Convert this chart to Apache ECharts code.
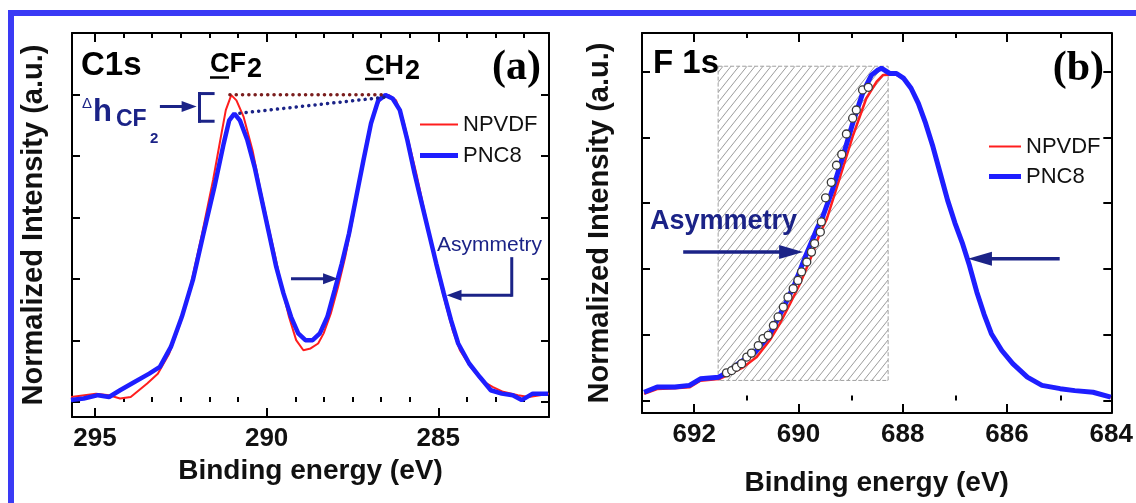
<!DOCTYPE html>
<html>
<head>
<meta charset="utf-8">
<script src="https://cdn.jsdelivr.net/npm/echarts@6/dist/echarts.min.js"></script>
<style>
html, body { margin: 0; padding: 0; background: #fff; }
#main { width: 1136px; height: 503px; }
</style>
</head>
<body>
<div id="main"></div>
<script>
// ---- C 1s panel (a) ----
const c1sRedE = [295.7, 294.97, 294.59, 294.27, 293.96, 293.48, 293.17, 292.84, 292.52, 292.2, 291.88, 291.56, 291.35, 291.19, 291.03, 290.88, 290.67, 290.41, 290.2, 289.99, 289.77, 289.56, 289.35, 289.14, 288.93, 288.72, 288.5, 288.34, 288.13, 287.92, 287.71, 287.5, 287.29, 287.08, 286.86, 286.65, 286.44, 286.23, 286.02, 285.85, 285.64, 285.43, 285.22, 285.01, 284.79, 284.58, 284.37, 284.06, 283.74, 283.42, 283.11, 282.68, 282.36, 282.04, 281.78];
const c1sNPVDF = [0.016, 0.027, 0.022, 0.011, 0.016, 0.060, 0.092, 0.157, 0.255, 0.385, 0.548, 0.722, 0.852, 0.949, 0.998, 0.981, 0.927, 0.818, 0.700, 0.591, 0.483, 0.374, 0.277, 0.201, 0.168, 0.174, 0.190, 0.223, 0.288, 0.374, 0.472, 0.591, 0.722, 0.852, 0.949, 0.992, 0.998, 0.981, 0.916, 0.840, 0.743, 0.634, 0.526, 0.417, 0.320, 0.233, 0.168, 0.114, 0.070, 0.049, 0.033, 0.022, 0.016, 0.022, 0.027];
const c1sBlueE = [295.70, 295.33, 294.91, 294.59, 294.27, 293.85, 293.42, 293.11, 292.79, 292.47, 292.15, 291.84, 291.52, 291.25, 291.09, 290.94, 290.78, 290.56, 290.35, 290.14, 289.93, 289.72, 289.51, 289.29, 289.08, 288.87, 288.66, 288.45, 288.23, 288.02, 287.81, 287.60, 287.39, 287.18, 286.96, 286.75, 286.54, 286.33, 286.12, 285.90, 285.69, 285.48, 285.27, 285.06, 284.84, 284.63, 284.42, 284.10, 283.79, 283.47, 283.15, 282.83, 282.57, 282.25, 281.80];
const c1sPNC8 = [0.006, 0.011, 0.022, 0.016, 0.038, 0.065, 0.092, 0.114, 0.179, 0.277, 0.396, 0.548, 0.700, 0.841, 0.916, 0.938, 0.916, 0.851, 0.764, 0.656, 0.548, 0.439, 0.353, 0.277, 0.223, 0.201, 0.201, 0.223, 0.277, 0.363, 0.450, 0.548, 0.667, 0.786, 0.906, 0.981, 0.998, 0.987, 0.949, 0.851, 0.743, 0.645, 0.548, 0.450, 0.353, 0.266, 0.190, 0.125, 0.081, 0.038, 0.027, 0.022, 0.006, 0.027, 0.027];

// ---- F 1s panel (b) ----
const f1sRedE = [692.96, 692.71, 692.37, 692.09, 691.88, 691.53, 691.44, 691.06, 690.80, 690.55, 690.36, 690.16, 689.97, 689.78, 689.59, 689.46, 689.21, 688.95, 688.70, 688.50, 688.38, 688.25, 688.12, 687.98, 687.84, 687.70, 687.56, 687.42, 687.28, 687.14, 687.00, 686.86, 686.72, 686.58, 686.44, 686.30, 686.10, 685.89, 685.61, 685.33, 684.98, 684.70, 684.35, 684.01];
const f1sNPVDF = [0.020, 0.035, 0.037, 0.040, 0.060, 0.065, 0.071, 0.101, 0.132, 0.183, 0.233, 0.294, 0.355, 0.426, 0.507, 0.550, 0.675, 0.807, 0.918, 0.969, 0.989, 0.990, 0.990, 0.979, 0.949, 0.903, 0.842, 0.771, 0.690, 0.609, 0.540, 0.480, 0.410, 0.330, 0.262, 0.203, 0.152, 0.112, 0.071, 0.046, 0.036, 0.030, 0.025, 0.010];
const f1sBlueE = [692.96, 692.71, 692.37, 692.09, 691.88, 691.53, 691.36, 691.11, 690.83, 690.56, 690.28, 690.07, 689.86, 689.65, 689.53, 689.34, 689.14, 688.95, 688.76, 688.60, 688.47, 688.41, 688.25, 688.12, 687.98, 687.84, 687.70, 687.56, 687.42, 687.28, 687.14, 687.00, 686.86, 686.72, 686.58, 686.44, 686.30, 686.10, 685.89, 685.61, 685.33, 684.98, 684.70, 684.35, 684.01];
const f1sPNC8 = [0.025, 0.041, 0.041, 0.046, 0.066, 0.071, 0.086, 0.117, 0.147, 0.198, 0.284, 0.355, 0.440, 0.520, 0.560, 0.644, 0.746, 0.847, 0.938, 0.989, 1.005, 1.010, 0.994, 0.994, 0.979, 0.949, 0.903, 0.842, 0.771, 0.690, 0.609, 0.540, 0.480, 0.410, 0.330, 0.262, 0.203, 0.152, 0.112, 0.071, 0.046, 0.036, 0.030, 0.025, 0.010];
// open circles on the low-energy flank
const f1sFitE = [691.38, 691.28, 691.19, 691.09, 690.99, 690.90, 690.77, 690.68, 690.58, 690.48, 690.39, 690.29, 690.20, 690.10, 690.01, 689.94, 689.84, 689.75, 689.69, 689.58, 689.56, 689.48, 689.37, 689.27, 689.17, 689.08, 688.96, 688.89, 688.77, 688.66];
const f1sFitI = [0.084, 0.091, 0.101, 0.112, 0.132, 0.144, 0.167, 0.188, 0.198, 0.228, 0.254, 0.284, 0.314, 0.340, 0.365, 0.391, 0.421, 0.451, 0.477, 0.512, 0.543, 0.616, 0.663, 0.715, 0.748, 0.810, 0.858, 0.883, 0.944, 0.952];

// ticks
const c1sMajorTicks = [285, 290, 295];
const c1sMinorTicks = [294.1667, 293.3333, 292.5, 291.6667, 290.8333, 289.1667, 288.3333, 287.5, 286.6667, 285.8333, 284.1667, 283.3333, 282.5];
const f1sMajorTicks = [684, 686, 688, 690, 692];
const f1sMinorTicks = [685, 687, 689, 691];
const yTicks = [0, 0.2, 0.4, 0.6, 0.8, 1.0];

// annotations (data coordinates)
const c1sArrows = [[293.11, 0.961, 292.04, 0.961], [289.29, 0.401, 287.92, 0.401], [282.86, 0.347, 284.76, 0.347]];
const c1sStrokes = [[282.86, 0.466, 282.86, 0.347], [291.56, 1.003, 291.956, 1.003], [291.956, 1.003, 291.956, 0.913], [291.956, 0.913, 291.56, 0.913]];
const c1sPeakRed = [[291.07, 0.999], [286.55, 0.999]];
const c1sPeakBlue = [[290.78, 0.939], [286.41, 0.993]];
const f1sArrows = [[692.21, 0.451, 689.91, 0.451], [684.99, 0.431, 686.75, 0.431]];
const f1sWindow = [[691.54, 1.016], [688.28, 0.061]];

const FONT = '"Liberation Sans", Arial, sans-serif';
const RED = '#ff1e1e';
const BLUE = '#1e1eff';
const NAVY = '#1b2387';

function zip(xs, ys) {
    return xs.map((x, i) => [x, ys[i]]);
}

function hatch() {
    const c = document.createElement('canvas');
    c.width = 8;
    c.height = 10;
    const g = c.getContext('2d');
    g.strokeStyle = '#9c9c9c';
    g.lineWidth = 1;
    [-8, 0, 8].forEach(dx => {
        g.beginPath();
        g.moveTo(dx, 10);
        g.lineTo(dx + 8, 0);
        g.stroke();
    });
    return c;
}

function arrowRender(head, wid, lw) {
    return function (params, api) {
        const p1 = api.coord([api.value(0), api.value(1)]);
        const p2 = api.coord([api.value(2), api.value(3)]);
        const dx = p2[0] - p1[0], dy = p2[1] - p1[1];
        const len = Math.sqrt(dx * dx + dy * dy) || 1;
        const ux = dx / len, uy = dy / len;
        const bx = p2[0] - ux * head, by = p2[1] - uy * head;
        const kids = [{
            type: 'line',
            shape: { x1: p1[0], y1: p1[1], x2: head ? bx + ux : p2[0], y2: head ? by + uy : p2[1] },
            style: { stroke: NAVY, lineWidth: lw, lineCap: head ? 'butt' : 'square' }
        }];
        if (head) {
            kids.push({
                type: 'polygon',
                shape: { points: [[p2[0], p2[1]], [bx - uy * wid / 2, by + ux * wid / 2], [bx + uy * wid / 2, by - ux * wid / 2]] },
                style: { fill: NAVY }
            });
        }
        return { type: 'group', children: kids };
    };
}

function arrows(xi, yi, data, head, wid, lw) {
    return {
        type: 'custom', xAxisIndex: xi, yAxisIndex: yi, data: data, z: 6, silent: true,
        encode: { x: [0, 2], y: [1, 3] },
        renderItem: arrowRender(head, wid, lw)
    };
}

const tickStyle = { color: '#000', width: 2 };
const lineAxis = { show: true, onZero: false, lineStyle: { color: '#000', width: 2 } };

function xMajor(grid, pos, min, max, ticks, labelled, name, gap) {
    return {
        type: 'value', gridIndex: grid, position: pos, min: min, max: max, inverse: true,
        axisLine: lineAxis,
        axisTick: { show: true, inside: true, length: 9, customValues: ticks, lineStyle: tickStyle },
        axisLabel: labelled ? { show: true, customValues: ticks, margin: 9, fontSize: 26, fontWeight: 'bold', color: '#111', fontFamily: FONT } : { show: false },
        splitLine: { show: false },
        name: labelled ? name : '', nameLocation: 'middle', nameGap: gap,
        nameTextStyle: { fontSize: 28, fontWeight: 'bold', color: '#111', fontFamily: FONT }
    };
}

function xMinor(grid, pos, min, max, ticks) {
    return {
        type: 'value', gridIndex: grid, position: pos, min: min, max: max, inverse: true,
        axisLine: { show: false },
        axisTick: { show: true, inside: true, length: 5, customValues: ticks, lineStyle: tickStyle },
        axisLabel: { show: false }, splitLine: { show: false }
    };
}

function yMain(grid, pos, min, max, gap) {
    return {
        type: 'value', gridIndex: grid, position: pos, min: min, max: max,
        axisLine: lineAxis,
        axisTick: { show: true, inside: true, length: 8, customValues: yTicks, lineStyle: tickStyle },
        axisLabel: { show: false }, splitLine: { show: false },
        name: pos === 'left' ? 'Normalized Intensity (a.u.)' : '', nameLocation: 'middle', nameRotate: 90, nameGap: gap,
        nameTextStyle: { fontSize: 29, fontWeight: 'bold', color: '#111', fontFamily: FONT }
    };
}

function txt(x, y, text, size, weight, color, align, family) {
    return {
        type: 'text', x: x, y: y, silent: true, z: 10,
        style: {
            text: text, fontSize: size, fontWeight: weight, fontFamily: family || FONT, fill: color,
            align: align || 'left', textAlign: align || 'left', verticalAlign: 'middle', textVerticalAlign: 'middle'
        }
    };
}

function legendOf(left, top, w, gap) {
    return {
        data: [
            { name: 'NPVDF', icon: 'path://M0,0H' + w + 'V2H0Z' },
            { name: 'PNC8', icon: 'path://M0,0H' + w + 'V5H0Z' }
        ],
        orient: 'vertical', left: left, top: top, itemWidth: w, itemHeight: 14, itemGap: gap,
        symbolKeepAspect: true, padding: 0, selectedMode: false,
        textStyle: { fontSize: 22, color: '#111', fontFamily: FONT }
    };
}

const A_MIN = 281.775, A_MAX = 295.67, B_MIN = 684, B_MAX = 693;
const AY_MIN = -0.049, AY_MAX = 1.2, BY_MIN = -0.038, BY_MAX = 1.117;
const gridA = { left: 72, top: 33, width: 477, height: 384 };
const gridB = { left: 642, top: 33, width: 471, height: 380 };

const option = {
    animation: false,
    backgroundColor: '#fff',
    grid: [gridA, gridB, gridA, gridB],
    xAxis: [
        xMajor(0, 'bottom', A_MIN, A_MAX, c1sMajorTicks, true, 'Binding energy (eV)', 40),
        xMajor(0, 'top', A_MIN, A_MAX, c1sMajorTicks, false),
        xMajor(1, 'bottom', B_MIN, B_MAX, f1sMajorTicks, true, 'Binding energy (eV)', 56),
        xMajor(1, 'top', B_MIN, B_MAX, f1sMajorTicks, false),
        xMinor(2, 'bottom', A_MIN, A_MAX, c1sMinorTicks),
        xMinor(2, 'top', A_MIN, A_MAX, c1sMinorTicks),
        xMinor(3, 'bottom', B_MIN, B_MAX, f1sMinorTicks),
        xMinor(3, 'top', B_MIN, B_MAX, f1sMinorTicks)
    ],
    yAxis: [
        yMain(0, 'left', AY_MIN, AY_MAX, 24),
        yMain(0, 'right', AY_MIN, AY_MAX, 0),
        yMain(1, 'left', BY_MIN, BY_MAX, 28),
        yMain(1, 'right', BY_MIN, BY_MAX, 0),
        { type: 'value', gridIndex: 2, min: AY_MIN, max: AY_MAX, show: false },
        { type: 'value', gridIndex: 3, min: BY_MIN, max: BY_MAX, show: false }
    ],
    legend: [legendOf(420, 113.5, 38, 9), legendOf(989, 135.5, 32, 8)],
    series: [
        {
            type: 'line', name: 'NPVDF', xAxisIndex: 0, yAxisIndex: 0, data: zip(c1sRedE, c1sNPVDF),
            symbol: 'none', lineStyle: { color: RED, width: 2 }, itemStyle: { color: RED }, z: 2, silent: true
        },
        {
            type: 'line', name: 'PNC8', xAxisIndex: 0, yAxisIndex: 0, data: zip(c1sBlueE, c1sPNC8),
            symbol: 'none', lineStyle: { color: BLUE, width: 4.5 }, itemStyle: { color: BLUE }, z: 3, silent: true
        },
        {
            type: 'line', xAxisIndex: 0, yAxisIndex: 0, data: c1sPeakRed, symbol: 'none', z: 4, silent: true,
            lineStyle: { color: '#7a1d1d', width: 3.5, type: [0.1, 6.2], cap: 'round' }
        },
        {
            type: 'line', xAxisIndex: 0, yAxisIndex: 0, data: c1sPeakBlue, symbol: 'none', z: 4, silent: true,
            lineStyle: { color: NAVY, width: 3.5, type: [0.1, 6.2], cap: 'round' }
        },
        arrows(0, 0, c1sArrows, 15, 11, 3),
        arrows(0, 0, c1sStrokes, 0, 0, 3),
        {
            type: 'line', name: 'NPVDF', xAxisIndex: 2, yAxisIndex: 2, data: zip(f1sRedE, f1sNPVDF),
            symbol: 'none', lineStyle: { color: RED, width: 2.5 }, itemStyle: { color: RED }, z: 2, silent: true,
            markArea: {
                silent: true, label: { show: false },
                itemStyle: { color: { image: hatch(), repeat: 'repeat' }, borderColor: '#a0a0a0', borderWidth: 1, borderType: 'dashed', opacity: 1 },
                data: [[{ coord: f1sWindow[0] }, { coord: f1sWindow[1] }]]
            }
        },
        {
            type: 'line', name: 'PNC8', xAxisIndex: 2, yAxisIndex: 2, data: zip(f1sBlueE, f1sPNC8),
            symbol: 'none', lineStyle: { color: BLUE, width: 5 }, itemStyle: { color: BLUE }, z: 3, silent: true
        },
        {
            type: 'scatter', xAxisIndex: 2, yAxisIndex: 2, data: zip(f1sFitE, f1sFitI), symbol: 'circle', symbolSize: 8,
            itemStyle: { color: '#fff', borderColor: '#3a3a3a', borderWidth: 1.3, opacity: 1 }, z: 5, silent: true
        },
        arrows(2, 2, f1sArrows, 24, 14, 3.5)
    ],
    graphic: [
        { type: 'rect', shape: { x: 8, y: 10, width: 6, height: 493 }, style: { fill: '#3a3af5' }, silent: true },
        { type: 'rect', shape: { x: 8, y: 10, width: 1128, height: 6 }, style: { fill: '#3a3af5' }, silent: true },
        txt(81, 65.5, 'C1s', 33, 'bold', '#000'),
        txt(541, 68.5, '(a)', 42, 'bold', '#000', 'right', '"Liberation Serif", "Times New Roman", serif'),
        txt(210, 65, 'CF', 27, 'bold', '#000'),
        txt(247, 69.5, '2', 27, 'bold', '#000'),
        { type: 'line', shape: { x1: 210, y1: 77.5, x2: 229, y2: 77.5 }, style: { stroke: '#000', lineWidth: 2.5 }, silent: true },
        txt(365, 67, 'CH', 27, 'bold', '#000'),
        txt(405, 72, '2', 27, 'bold', '#000'),
        { type: 'line', shape: { x1: 365, y1: 79, x2: 384, y2: 79 }, style: { stroke: '#000', lineWidth: 2.5 }, silent: true },
        txt(82, 104, 'Δ', 15, 'normal', NAVY),
        txt(93, 112, 'h', 31, 'bold', NAVY),
        txt(116, 119.5, 'CF', 23, 'bold', NAVY),
        txt(150, 139, '2', 15, 'bold', NAVY),
        txt(437, 245.5, 'Asymmetry', 21, 'normal', NAVY),
        txt(653, 64, 'F 1s', 33, 'bold', '#000'),
        txt(1104, 69, '(b)', 42, 'bold', '#000', 'right', '"Liberation Serif", "Times New Roman", serif'),
        txt(650, 222, 'Asymmetry', 27, 'bold', NAVY)
    ]
};

const chart = echarts.init(document.getElementById('main'));
chart.setOption(option);
</script>
</body>
</html>
